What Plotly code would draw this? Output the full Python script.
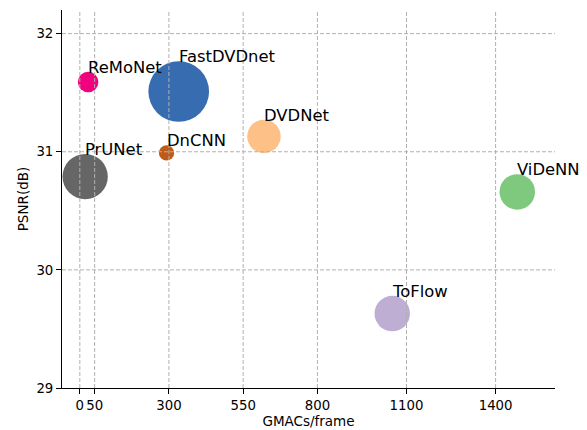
import numpy as np
import plotly.graph_objects as go

# Video denoisers: compute cost vs. restoration quality, bubble area ~ model size
models = ["ReMoNet", "FastDVDnet", "DVDNet", "DnCNN", "PrUNet", "ViDeNN", "ToFlow"]
gmacs = [28, 333, 620, 292, 18, 1473, 1052]
psnr = [31.59, 31.51, 31.13, 30.99, 30.79, 30.66, 29.63]
bubble_area = [420, 3685, 1122, 234, 2052, 1260, 1260]
colors = ["#f0027f", "#386cb0", "#fdc086", "#bf5b17", "#666666", "#7fc97f", "#beaed4"]

x_ticks = [0, 50, 300, 550, 800, 1100, 1400]
y_ticks = [29, 30, 31, 32]

FONT = "DejaVu Sans"
diam = np.sqrt(np.array(bubble_area, dtype=float))

fig = go.Figure()
fig.add_trace(go.Scatter(
    x=gmacs, y=psnr, mode="markers",
    marker=dict(size=diam, color=colors, opacity=1, line=dict(width=0)),
    hovertext=models, hoverinfo="text", showlegend=False,
))

# dashed grid drawn over the bubbles
grid = dict(color="#b0b0b0", width=1, dash="4px,2px")
shapes = []
for xv in x_ticks:
    shapes.append(dict(type="line", xref="x", yref="paper", x0=xv, x1=xv, y0=0, y1=1,
                       line=grid, layer="above"))
for yv in y_ticks[1:]:
    shapes.append(dict(type="line", xref="paper", yref="y", x0=0, x1=1, y0=yv, y1=yv,
                       line=grid, layer="above"))

# model names sit just above the top-right of each bubble
annotations = []
for name, xv, yv, d in zip(models, gmacs, psnr, diam):
    annotations.append(dict(x=xv, y=yv, xref="x", yref="y", text=name, showarrow=False,
                            xanchor="left", yanchor="bottom", xshift=-2, yshift=d / 2 - 7,
                            font=dict(family=FONT, size=16.4, color="black")))

axis_common = dict(showline=True, linecolor="black", linewidth=1, mirror=False,
                   ticks="outside", ticklen=5, tickwidth=1, tickcolor="black",
                   showgrid=False, zeroline=False,
                   tickfont=dict(family=FONT, size=13.3, color="black"))

fig.update_layout(
    width=587, height=430,
    margin=dict(l=62, r=32, t=10, b=42),
    paper_bgcolor="white", plot_bgcolor="white",
    font=dict(family=FONT, color="black"),
    shapes=shapes, annotations=annotations,
    xaxis=dict(range=[-60, 1600], tickmode="array", tickvals=x_ticks,
               ticktext=[str(v) for v in x_ticks],
               title=dict(text="GMACs/frame", font=dict(family=FONT, size=13.5), standoff=3),
               automargin=False, **axis_common),
    yaxis=dict(range=[29, 32.2], tickmode="array", tickvals=y_ticks,
               ticktext=[str(v) for v in y_ticks],
               title=dict(text="PSNR(dB)", font=dict(family=FONT, size=13.5), standoff=4),
               automargin=False, **axis_common),
)

fig.write_html("out.html")
